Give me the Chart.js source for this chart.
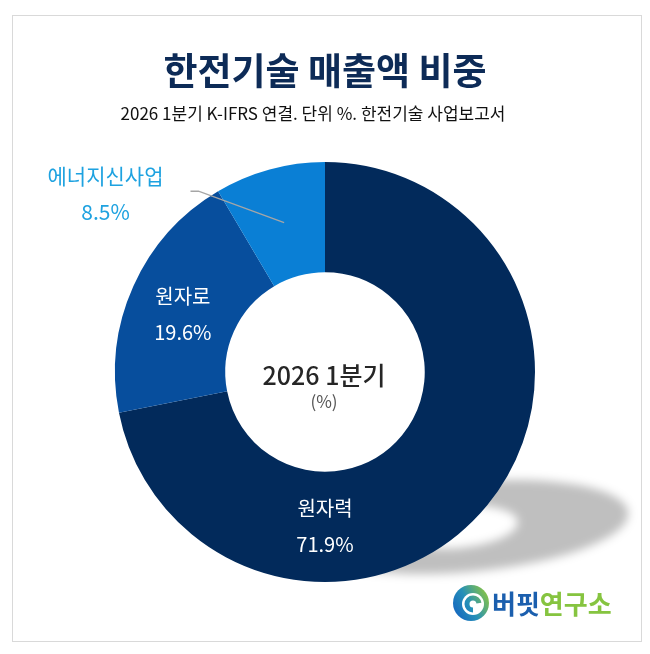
<!DOCTYPE html>
<html>
<head>
<meta charset="UTF-8">
<style>
  html, body { margin: 0; padding: 0; background: #fff; }
  #wrap { width: 650px; height: 654px; }
</style>
</head>
<body>
<div id="wrap"><canvas id="myChart"></canvas></div>

<script src="https://cdn.jsdelivr.net/npm/chart.js@4.4.1/dist/chart.umd.min.js"></script>

<script>
    // data
    var categories = ['원자력', '원자로', '에너지신사업'];
    var shares = [71.9, 19.6, 8.5];
    var sliceColors = ['#022a5b', '#074e9d', '#0a7fd5'];

    var FONT = '"Noto Sans CJK KR", "Noto Sans", sans-serif';

    // where each label sits: angle clockwise from 12 o'clock, radius as share of outer radius
    var labelPlace = [
        { angle: 180, r: 0.735, color: '#ffffff' },
        { angle: 292, r: 0.73, color: '#ffffff' },
        { angle: 309, r: 1.345, color: '#1ea2e0', leader: true }
    ];

    // frame, title, subtitle, logo
    var decorPlugin = {
        id: 'decor',
        beforeDraw: function (chart) {
            var ctx = chart.ctx;
            ctx.save();
            ctx.fillStyle = '#ffffff';
            ctx.fillRect(0, 0, chart.width, chart.height);
            ctx.strokeStyle = '#d9d9d9';
            ctx.lineWidth = 1;
            ctx.strokeRect(12.5, 15.5, 629, 626);
            ctx.restore();
        },
        beforeDatasetsDraw: function (chart) {
            // soft shadow of the ring, lying on the floor
            var arc = chart.getDatasetMeta(0).data[0];
            var ctx = chart.ctx;
            ctx.save();
            ctx.filter = 'blur(5px)';
            ctx.fillStyle = 'rgba(0,0,0,0.25)';
            ctx.beginPath();
            ctx.ellipse(arc.x + 142, arc.y + 155, 162, 45, -0.09, 0, Math.PI * 2);
            ctx.ellipse(arc.x + 133, arc.y + 155, 60, 21, -0.09, 0, Math.PI * 2);
            ctx.fill('evenodd');
            ctx.restore();
        },
        afterDraw: function (chart) {
            var ctx = chart.ctx;
            ctx.save();
            ctx.textAlign = 'center';
            ctx.textBaseline = 'middle';

            ctx.fillStyle = '#0d2b57';
            ctx.font = 'bold 37px ' + FONT;
            ctx.fillText('한전기술 매출액 비중', 325, 71);

            ctx.fillStyle = '#111111';
            ctx.font = '17px ' + FONT;
            ctx.fillText('2026 1분기 K-IFRS 연결. 단위 %. 한전기술 사업보고서', 313, 114);

            // logo
            var lx = 471, ly = 603;
            var g = ctx.createLinearGradient(lx - 18, ly + 10, lx + 18, ly - 10);
            g.addColorStop(0, '#1565c0');
            g.addColorStop(0.45, '#2590b8');
            g.addColorStop(1, '#8dc63f');
            ctx.fillStyle = g;
            ctx.beginPath();
            ctx.arc(lx, ly, 18, 0, Math.PI * 2);
            ctx.fill();
            ctx.fillStyle = '#ffffff';
            ctx.beginPath();
            ctx.arc(lx + 2, ly + 1, 11, 0, Math.PI * 2);
            ctx.fill();
            ctx.strokeStyle = g;
            ctx.lineWidth = 5;
            ctx.beginPath();
            ctx.arc(lx + 2, ly + 1, 6, Math.PI * 0.5, Math.PI * 1.95);
            ctx.stroke();

            ctx.textAlign = 'left';
            ctx.font = 'bold 26px ' + FONT;
            ctx.fillStyle = '#1b5fae';
            ctx.fillText('버핏', 492, 604);
            var w = ctx.measureText('버핏').width;
            ctx.fillStyle = '#86c440';
            ctx.fillText('연구소', 492 + w, 604);
            ctx.restore();
        }
    };

    // slice labels and hole text
    var labelPlugin = {
        id: 'sliceLabels',
        afterDatasetsDraw: function (chart) {
            var ctx = chart.ctx;
            var meta = chart.getDatasetMeta(0);
            ctx.save();
            ctx.textAlign = 'center';
            ctx.textBaseline = 'middle';
            meta.data.forEach(function (arc, i) {
                var p = labelPlace[i];
                var a = p.angle * Math.PI / 180;
                var x = arc.x + p.r * arc.outerRadius * Math.sin(a);
                var y = arc.y - p.r * arc.outerRadius * Math.cos(a);
                if (p.leader) {
                    var c = arc.tooltipPosition();
                    ctx.strokeStyle = '#a6a6a6';
                    ctx.lineWidth = 1.3;
                    ctx.beginPath();
                    ctx.moveTo(x + 85, y - 3);
                    ctx.lineTo(x + 93, y - 3);
                    ctx.lineTo(c.x, c.y);
                    ctx.stroke();
                }
                ctx.fillStyle = p.color;
                ctx.font = (p.leader ? '21px ' : '20px ') + FONT;
                ctx.fillText(categories[i], x, y - 18);
                ctx.fillText(shares[i].toFixed(1) + '%', x, y + 18);
            });

            var first = meta.data[0];
            ctx.fillStyle = '#262626';
            ctx.font = '500 25px ' + FONT;
            ctx.fillText('2026 1분기', first.x - 1, first.y + 3);
            ctx.fillStyle = '#555555';
            ctx.font = '17px ' + FONT;
            ctx.fillText('(%)', first.x - 1, first.y + 30);
            ctx.restore();
        }
    };

    var ctx = document.getElementById('myChart').getContext('2d');
    var chart = new Chart(ctx, {
        type: 'doughnut',
        data: {
            labels: categories,
            datasets: [{
                data: shares,
                backgroundColor: sliceColors,
                borderWidth: 0
            }]
        },
        options: {
            responsive: true,
            maintainAspectRatio: false,
            animation: false,
            cutout: '47.5%',
            layout: { padding: { top: 162, bottom: 72, left: 115, right: 115 } },
            plugins: {
                legend: { display: false },
                tooltip: { enabled: false }
            }
        },
        plugins: [decorPlugin, labelPlugin]
    });
</script>
</body>
</html>
